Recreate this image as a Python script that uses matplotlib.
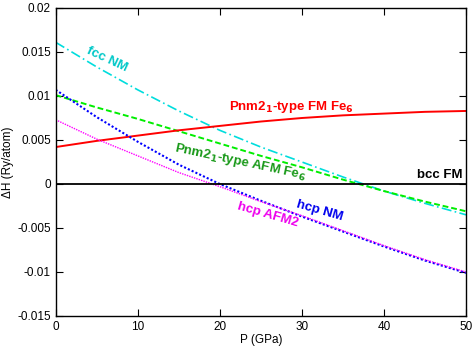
import matplotlib
matplotlib.use("Agg")
import matplotlib.pyplot as plt
import numpy as np

plt.rcParams['font.family'] = ['Liberation Sans', 'DejaVu Sans']

# pressure grid (GPa)
P = [0, 5, 10, 15, 20, 25, 30, 35, 40, 45, 50]

# enthalpy differences vs bcc FM (Ry/atom)
fcc_nm = [0.0161, 0.0133, 0.0107, 0.0083, 0.0061, 0.0042, 0.0025, 0.0008, -0.0008, -0.0022, -0.0035]
afm_fe6 = [0.0101, 0.0087, 0.0074, 0.0060, 0.0046, 0.0032, 0.0019, 0.0005, -0.0008, -0.0020, -0.0031]
fm_fe6 = [0.0042, 0.0049, 0.0055, 0.0061, 0.0066, 0.0071, 0.0075, 0.0078, 0.0080, 0.0082, 0.0083]
hcp_nm = [0.0107, 0.0076, 0.0048, 0.0022, 0.0000, -0.0019, -0.0037, -0.0054, -0.0071, -0.0087, -0.0101]
hcp_afm2 = [0.0073, 0.0051, 0.0032, 0.0013, -0.0003, -0.0020, -0.0036, -0.0053, -0.0070, -0.0086, -0.0100]
bcc_fm = [0.0] * len(P)

fig = plt.figure(figsize=(4.74, 3.47), dpi=100)
ax = fig.add_axes([55.7/474, 31/347, 410.3/474, 308/347])

ax.plot(P, fcc_nm, color='#00dddd', lw=1.2, linestyle=(0, (6, 2, 1, 2)))
ax.plot(P, afm_fe6, color='#00ee00', lw=1.4, linestyle=(0, (3, 1.5)))
ax.plot(P, fm_fe6, color='#ff0000', lw=1.4)
ax.plot(P, hcp_nm, color='#0000ff', lw=1.5, linestyle=(0, (1, 1)))
ax.plot(P, hcp_afm2, color='#ff00ff', lw=1.0, linestyle=(0, (1, 0.8)))
ax.plot(P, bcc_fm, color='black', lw=1.3)

ax.set_xlim(0, 50)
ax.set_ylim(-0.015, 0.02)
ax.set_xticks([0, 10, 20, 30, 40, 50])
ax.set_yticks([-0.015, -0.01, -0.005, 0, 0.005, 0.01, 0.015, 0.02])
ax.set_yticklabels(['-0.015', '-0.01', '-0.005', '0', '0.005', '0.01', '0.015', '0.02'])
ax.tick_params(direction='in', length=5, top=True, right=True, labelsize=8.5, width=0.8)
ax.set_xlabel('P (GPa)', fontsize=8.5, labelpad=1)
ax.set_ylabel('ΔH (Ry/atom)', fontsize=8.5, labelpad=2)

bold = dict(fontsize=9.5, fontweight='bold', ha='center', va='center')
ax.text(6.3, 0.0142, 'fcc NM', color='#00c8c8', rotation=-25, **bold)
ax.text(28.7, 0.0087, 'Pnm2$_\\mathbf{1}$-type FM Fe$_\\mathbf{6}$', color='#ff0000', **bold)
ax.text(22.5, 0.0025, 'Pnm2$_\\mathbf{1}$-type AFM Fe$_\\mathbf{6}$', color='#1a9a1a', rotation=-12, **bold)
ax.text(49.6, 0.001, 'bcc FM', color='black', fontsize=9.5, fontweight='bold', ha='right', va='center')
ax.text(32.2, -0.0030, 'hcp NM', color='#0000ee', rotation=-16, **bold)
ax.text(25.8, -0.0035, 'hcp AFM2', color='#ee00ee', rotation=-16, **bold)

for s in ax.spines.values():
    s.set_linewidth(1.0)

fig.savefig('out.png', dpi=100)
